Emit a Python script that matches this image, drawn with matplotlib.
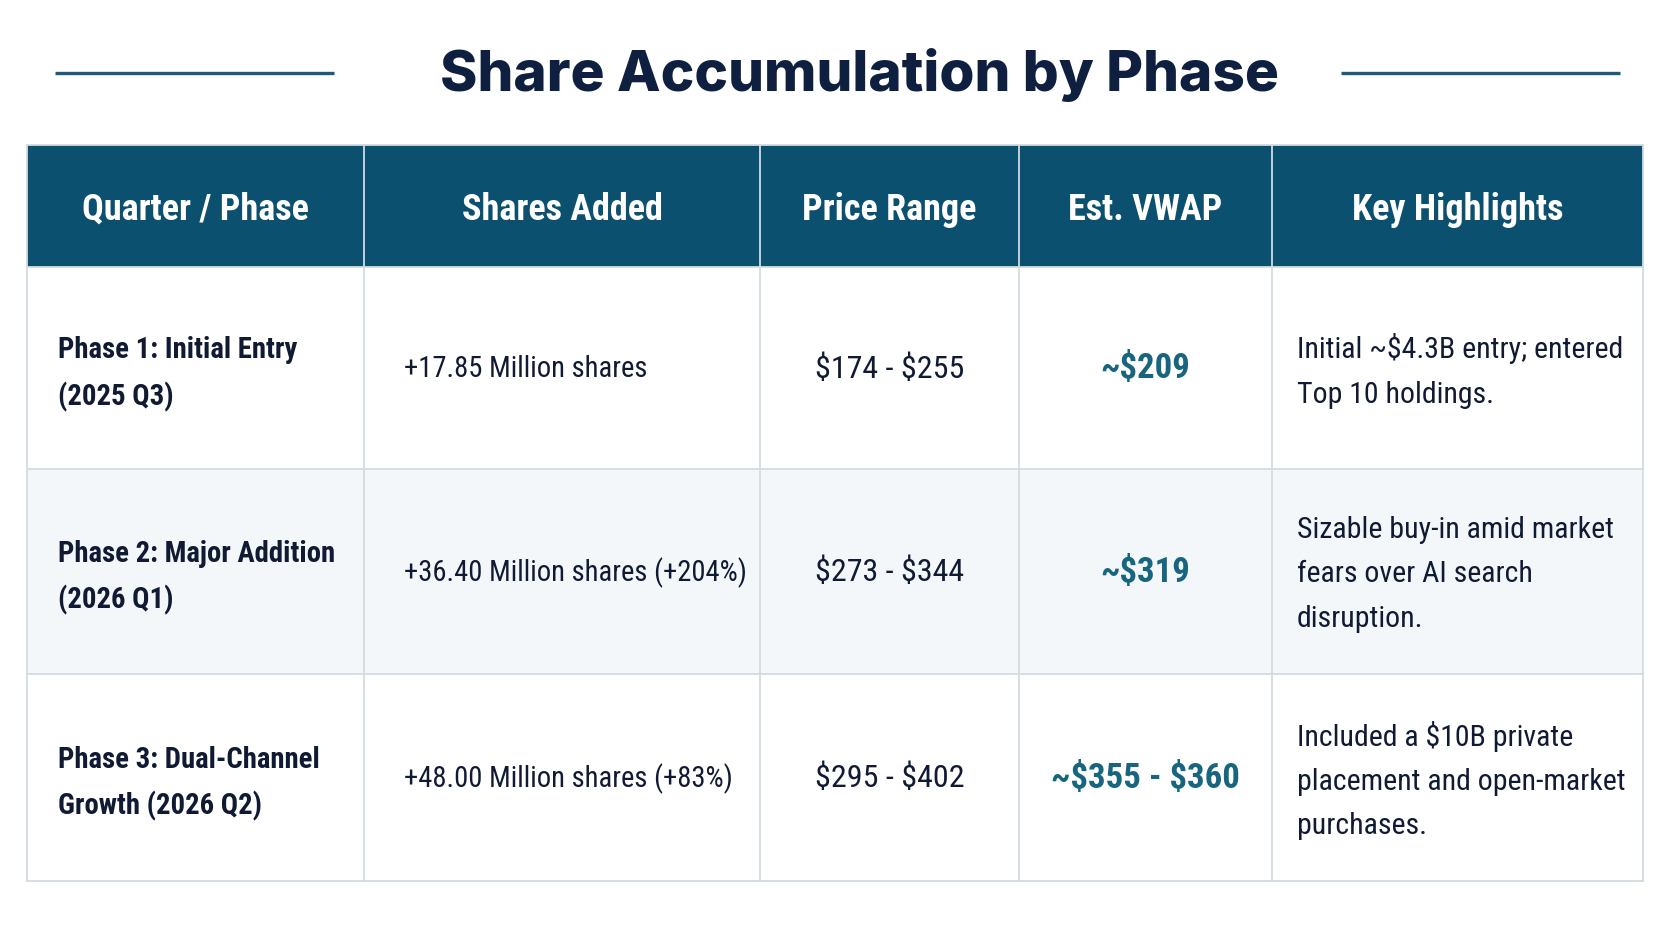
import matplotlib
matplotlib.use("Agg")
import matplotlib.pyplot as plt
from matplotlib.patches import Rectangle

# ---- data ----
title = "Share Accumulation by Phase"
headers = ["Quarter / Phase", "Shares Added", "Price Range", "Est. VWAP", "Key Highlights"]
phases = ["Phase 1: Initial Entry\n(2025 Q3)",
          "Phase 2: Major Addition\n(2026 Q1)",
          "Phase 3: Dual-Channel\nGrowth (2026 Q2)"]
shares_added = ["+17.85 Million shares",
                "+36.40 Million shares (+204%)",
                "+48.00 Million shares (+83%)"]
price_ranges = ["$174 - $255", "$273 - $344", "$295 - $402"]
vwaps = ["~$209", "~$319", "~$355 - $360"]
highlights = ["Initial ~$4.3B entry; entered\nTop 10 holdings.",
              "Sizable buy-in amid market\nfears over AI search\ndisruption.",
              "Included a $10B private\nplacement and open-market\npurchases."]

# ---- layout / style ----
W, H = 1672, 941
col_edges = [27, 364, 760, 1019, 1272, 1643]
row_edges = [145, 267, 469, 674, 881]
row_fills = ["#ffffff", "#f3f7fa", "#ffffff"]
header_fill = "#0c5070"
grid_col = "#d3dbe2"
navy = "#111a33"
teal = "#17657e"
COND = ["Roboto Condensed", "DejaVu Sans"]

fig = plt.figure(figsize=(W / 100, H / 100), dpi=100)
fig.patch.set_facecolor("white")
ax = fig.add_axes([0, 0, 1, 1])
ax.set_xlim(0, W)
ax.set_ylim(H, 0)
ax.axis("off")

def txt(x, y, s, **kw):
    return ax.text(x, y, s, parse_math=False, **kw)

# title and decorative lines
txt(859, 91, title, ha="center", va="baseline", fontsize=40.8,
    fontweight="heavy", color="#0f1f3f", family=["Inter", "DejaVu Sans"])
ax.plot([55, 334], [72.5, 72.5], color="#1c5b78", lw=2.4, solid_capstyle="butt")
ax.plot([1341, 1620], [72.5, 72.5], color="#1c5b78", lw=2.4, solid_capstyle="butt")

# header
ax.add_patch(Rectangle((col_edges[0], row_edges[0]), col_edges[-1] - col_edges[0],
                       row_edges[1] - row_edges[0], facecolor=header_fill, edgecolor="none"))
for i, h in enumerate(headers):
    cx = (col_edges[i] + col_edges[i + 1]) / 2
    txt(cx, (row_edges[0] + row_edges[1]) / 2 + 4, h, ha="center", va="center",
        fontsize=26, fontweight="bold", color="white", family=COND)

# body rows
for r in range(len(phases)):
    y0, y1 = row_edges[r + 1], row_edges[r + 2]
    cy = (y0 + y1) / 2
    ax.add_patch(Rectangle((col_edges[0], y0), col_edges[-1] - col_edges[0], y1 - y0,
                           facecolor=row_fills[r], edgecolor="none"))
    txt(col_edges[0] + 31, cy + 6, phases[r], ha="left", va="center", fontsize=20.7,
        fontweight="bold", color=navy, family=COND, linespacing=1.74)
    txt(col_edges[1] + 40, cy + 1, shares_added[r], ha="left", va="center", fontsize=20.6,
        color=navy, family=COND)
    txt((col_edges[2] + col_edges[3]) / 2, cy + 1, price_ranges[r], ha="center", va="center",
        fontsize=23, color=navy, family=COND)
    txt((col_edges[3] + col_edges[4]) / 2, cy + 1, vwaps[r], ha="center", va="center",
        fontsize=25, fontweight="bold", color=teal, family=COND)
    txt(col_edges[4] + 25, cy + 3, highlights[r], ha="left", va="center", fontsize=21.5,
        color=navy, family=COND, linespacing=1.74)

# grid lines
for x in col_edges:
    ax.plot([x, x], [row_edges[0], row_edges[-1]], color=grid_col, lw=1.3)
for y in row_edges:
    ax.plot([col_edges[0], col_edges[-1]], [y, y], color=grid_col, lw=1.3)

fig.savefig("out.png", dpi=100, facecolor="white")
